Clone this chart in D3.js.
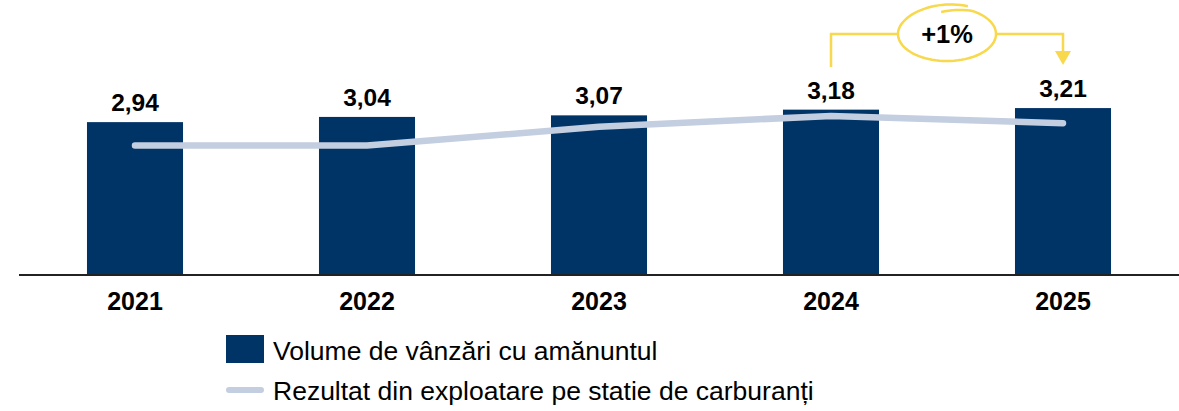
<!DOCTYPE html>
<html>
<head>
<meta charset="utf-8">
<script src="https://cdn.jsdelivr.net/npm/d3@7"></script>
<style>
  html, body { margin: 0; padding: 0; background: #fff; }
  svg { display: block; font-family: "Liberation Sans", Arial, sans-serif; }
</style>
</head>
<body>
<svg id="chart" width="1179" height="411"></svg>
<script>
// Years on the x axis
const years = ["2021", "2022", "2023", "2024", "2025"];
// Retail sales volumes (bars)
const salesVolumes = [2.94, 3.04, 3.07, 3.18, 3.21];
const salesLabels = ["2,94", "3,04", "3,07", "3,18", "3,21"];
// Operating result per fuel station (line, same vertical scale)
const resultPerStation = [2.49, 2.49, 2.85, 3.06, 2.92];
// Growth callout between the last two years
const growthLabel = "+1%";
const growthFrom = "2024";
const growthTo = "2025";
// Legend entries
const legendLabels = ["Volume de vânzări cu amănuntul", "Rezultat din exploatare pe statie de carburanți"];

const barColor = "#003366";
const lineColor = "#c3cee0";
const accent = "#f8d84c";

const svg = d3.select("#chart");

const x = d3.scaleBand()
  .domain(years)
  .range([19, 1179])
  .paddingInner(0.586)
  .paddingOuter(0.293);

const y = d3.scaleLinear()
  .domain([0, 3.5])
  .range([275, 275 - 3.5 * 52]);

// Bars
svg.append("g")
  .selectAll("rect")
  .data(years)
  .join("rect")
  .attr("x", d => x(d))
  .attr("y", (d, i) => y(salesVolumes[i]))
  .attr("width", x.bandwidth())
  .attr("height", (d, i) => y(0) - y(salesVolumes[i]))
  .attr("fill", barColor);

// Bar value labels
svg.append("g")
  .selectAll("text")
  .data(years)
  .join("text")
  .attr("x", d => x(d) + x.bandwidth() / 2)
  .attr("y", (d, i) => y(salesVolumes[i]) - 11)
  .attr("text-anchor", "middle")
  .attr("font-size", 24.5)
  .attr("font-weight", "bold")
  .attr("fill", "#000")
  .text((d, i) => salesLabels[i]);

// Result line
const line = d3.line()
  .x((d, i) => x(years[i]) + x.bandwidth() / 2)
  .y(d => y(d));

svg.append("path")
  .datum(resultPerStation)
  .attr("d", line)
  .attr("fill", "none")
  .attr("stroke", lineColor)
  .attr("stroke-width", 6.5)
  .attr("stroke-linecap", "round")
  .attr("stroke-linejoin", "round");

// Category axis
const xAxis = svg.append("g")
  .attr("transform", `translate(0,${y(0)})`)
  .call(d3.axisBottom(x).tickSize(0).tickPadding(0));
xAxis.select(".domain")
  .attr("d", "M19,0H1179")
  .attr("stroke", "#222")
  .attr("stroke-width", 2);
xAxis.selectAll(".tick text")
  .attr("dy", 0)
  .attr("y", 35)
  .attr("font-family", "Liberation Sans, Arial, sans-serif")
  .attr("font-size", 25)
  .attr("font-weight", "bold")
  .attr("fill", "#000");

// Growth callout
const cx1 = x(growthFrom) + x.bandwidth() / 2;
const cx2 = x(growthTo) + x.bandwidth() / 2;
const mid = (cx1 + cx2) / 2;
const cy = 34;
const rx = 49, ry = 27;
const callout = svg.append("g").attr("fill", "none").attr("stroke", accent).attr("stroke-width", 2.5);
callout.append("path")
  .attr("d", `M${cx1},${67}V${cy}H${mid - rx}`);
callout.append("path")
  .attr("d", `M${mid + rx},${cy}H${cx2}V${52}`);
callout.append("path")
  .attr("d", `M${cx2 - 8},${51}L${cx2 + 8},${51}L${cx2},${65}Z`)
  .attr("fill", accent)
  .attr("stroke", "none");
// Hand-drawn loop around the label: starts near the top, goes round once
// and finishes slightly outside its own start
const loop = d3.path();
const steps = 90;
const sweep = 2 * Math.PI + 0.55;
for (let k = 0; k <= steps; k++) {
  const f = k / steps;
  const t = -Math.PI / 2 - 0.12 + f * sweep;
  const late = Math.max(0, (f - 0.78) / 0.22);
  const py = cy + ry * Math.sin(t) * (1 - 0.18 * (1 - f) * (f < 0.1 ? 1 - f * 10 : 0) ) * (1 + 0.13 * late);
  const px = mid + rx * Math.cos(t) * (1 + 0.02 * late);
  if (k === 0) loop.moveTo(px, py); else loop.lineTo(px, py);
}
callout.append("path").attr("d", loop.toString());

svg.append("text")
  .attr("x", mid)
  .attr("y", cy + 9)
  .attr("text-anchor", "middle")
  .attr("font-size", 25.5)
  .attr("font-weight", "bold")
  .attr("fill", "#000")
  .text(growthLabel);

// Legend
const legend = svg.append("g");
legend.append("rect")
  .attr("x", 226).attr("y", 335)
  .attr("width", 38).attr("height", 28)
  .attr("fill", barColor);
legend.append("line")
  .attr("x1", 229).attr("x2", 261)
  .attr("y1", 390).attr("y2", 390)
  .attr("stroke", lineColor)
  .attr("stroke-width", 6)
  .attr("stroke-linecap", "round");
legend.selectAll("text")
  .data(legendLabels)
  .join("text")
  .attr("x", 273)
  .attr("y", (d, i) => 359.5 + i * 40)
  .attr("font-size", 26.5)
  .attr("fill", "#000")
  .text(d => d);
</script>
</body>
</html>
